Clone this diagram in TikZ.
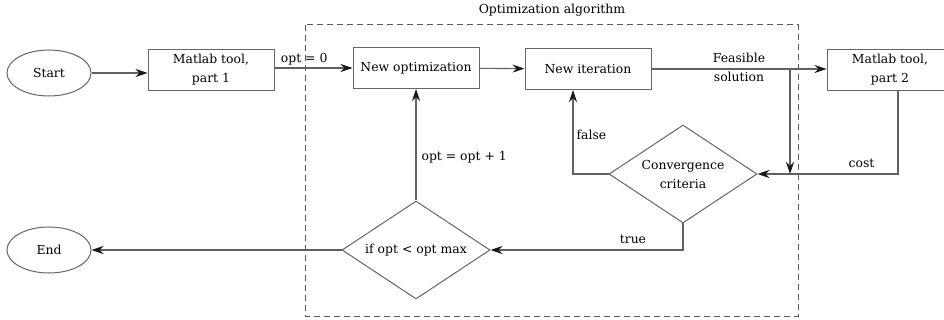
\documentclass[tikz,border=0pt]{standalone}
\usepackage{fontspec}
\setmainfont{DejaVu Serif}
\usetikzlibrary{shapes.geometric,arrows.meta,calc}
\begin{document}
\begin{tikzpicture}[x=1pt,y=-1pt,
  ln/.style={draw=black!62, line width=1.1pt},
  arr/.style={ln, -{Stealth[length=12pt,width=8pt,inset=4pt,color=black!90]}},
  txt/.style={font=\fontsize{12.4}{19}\selectfont},
  box/.style={txt, draw=black!60, line width=1pt, rectangle, minimum width=126pt, minimum height=41pt, inner sep=0pt, align=center},
  oval/.style={txt, draw=black!60, line width=1pt, ellipse, minimum width=84pt, minimum height=46pt, inner sep=0pt},
  dia/.style={draw=black!60, line width=1pt, diamond, minimum width=148pt, minimum height=98pt, inner sep=0pt},
  lbl/.style={txt, inner sep=1pt, align=center}
]
\useasboundingbox (0,0) rectangle (944,320);
\draw[draw=black!65, line width=1pt, dash pattern=on 6pt off 4pt] (305,25) rectangle (798,316);
\node[lbl] (title) at (552,10) {Optimization algorithm};

\node[oval] (start) at (49,73) {Start};
\node[oval] (end) at (49,250) {End};
\node[box] (m1) at (211,70) {Matlab tool,\\part 1};
\node[box] (newopt) at (416,68) {New optimization};
\node[box] (newit) at (588,69) {New iteration};
\node[box] (m2) at (890,70) {Matlab tool,\\part 2};
\node[dia] (conv) at (683,174) {};
\node[lbl] (convtext) at (conv.center) {Convergence\\criteria};
\node[dia] (ifd) at (416,250) {};
\node[lbl] (ifdtext) at (ifd.center) {if opt < opt max};

\draw[arr] (start.east) -- (start.east -| m1.west);
\draw[arr] (m1.east |- newopt.west) -- node[lbl, pos=0.38, above=1pt] {opt = 0} (newopt.west);
\draw[arr] (newopt) -- (newit);
\draw[arr] (newit.east) -- node[lbl, pos=0.5, yshift=2pt] {Feasible\\solution} (newit.east -| m2.west);
\coordinate (split) at (790,69);
\draw[arr] (split) -- (split |- conv.east);
\coordinate (m2out) at ([xshift=8pt]m2.south);
\draw[arr] (m2out) |- node[lbl, pos=0.63, above=5pt] {cost} (conv.east);
\coordinate (fup) at ([xshift=-15pt]newit.south);
\draw[arr] (conv.west) -| node[lbl, pos=0.73, right=2pt] {false} (fup);
\draw[arr] (conv.south) |- node[lbl, pos=0.63, above=5pt] {true} (ifd.east);
\draw[arr] (ifd.north) -- node[lbl, pos=0.39, right=4pt] {opt = opt + 1} (ifd.north |- newopt.south);
\draw[arr] (ifd.west) -- (end.east);
\end{tikzpicture}
\end{document}
